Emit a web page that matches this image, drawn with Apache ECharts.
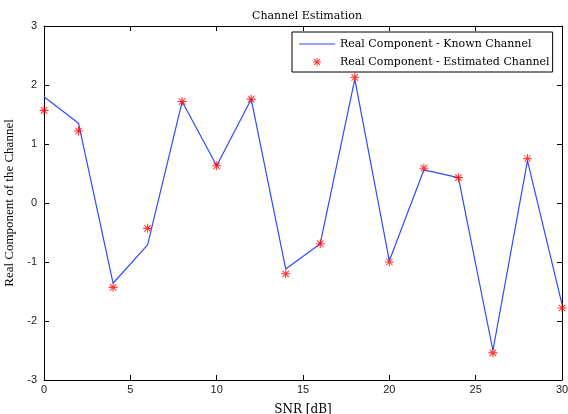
<!DOCTYPE html>
<html>
<head>
<meta charset="utf-8">
<script src="https://cdn.jsdelivr.net/npm/echarts@6/dist/echarts.min.js"></script>
<style>
  html, body { margin: 0; padding: 0; background: #fff; }
  #main { width: 568px; height: 414px; }
</style>
</head>
<body>
<div id="main"></div>
<script>
// SNR points (dB)
var snr = [0, 2, 4, 6, 8, 10, 12, 14, 16, 18, 20, 22, 24, 26, 28, 30];
// real part, known channel (line)
var knownReal = [1.80, 1.35, -1.36, -0.71, 1.72, 0.63, 1.76, -1.12, -0.69, 2.10, -0.98, 0.56, 0.43, -2.50, 0.72, -1.72];
// real part, estimated channel (stars)
var estReal = [1.57, 1.22, -1.43, -0.43, 1.72, 0.63, 1.76, -1.20, -0.69, 2.13, -1.00, 0.59, 0.43, -2.54, 0.75, -1.78];
var xTicks = [0, 5, 10, 15, 20, 25, 30];
var yTicks = [-3, -2, -1, 0, 1, 2, 3];

var serif = '"DejaVu Serif", "Liberation Serif", serif';
var times = '"Liberation Serif", serif';
var sans = '"Liberation Sans", Arial, sans-serif';

// asterisk marker like matlab '*'
var star = 'path://M0 4.4H10V5.6H0Z M4.4 0H5.6V10H4.4Z M1 1.8L1.8 1L9 8.2L8.2 9Z M8.2 1L9 1.8L1.8 9L1 8.2Z';
var lineIcon = 'path://M0 0H36V1.2H0Z';

function pairs(xs, ys) {
  return xs.map(function (x, i) { return [x, ys[i]]; });
}

var chart = echarts.init(document.getElementById('main'));

var frameAxis = {
  axisLine: { show: true, onZero: false, lineStyle: { color: '#000', width: 1 } },
  axisTick: { show: true, inside: true, length: 5, lineStyle: { color: '#000' } },
  splitLine: { show: false }
};

chart.setOption({
  animation: false,
  backgroundColor: '#fff',
  title: {
    text: 'Channel Estimation',
    left: 302,
    textAlign: 'center',
    top: 6,
    textStyle: { fontFamily: serif, fontSize: 11, fontWeight: 'normal', color: '#000' }
  },
  grid: { left: 44, right: 6, top: 26, bottom: 34, outerBoundsMode: 'none', containLabel: false },
  legend: {
    orient: 'vertical',
    left: 292,
    top: 32,
    padding: [5, 3, 3, 7],
    itemGap: 4,
    itemWidth: 36,
    itemHeight: 8,
    borderColor: '#000',
    borderWidth: 1,
    borderRadius: 0,
    backgroundColor: '#fff',
    textStyle: { fontFamily: serif, fontSize: 11, color: '#000', lineHeight: 14 },
    data: [
      { name: 'Real Component - Known Channel', icon: lineIcon, itemStyle: { color: '#2f4cf5' } },
      { name: 'Real Component - Estimated Channel', icon: star, itemStyle: { color: '#ff0000' } }
    ]
  },
  xAxis: [
    Object.assign({}, frameAxis, {
      type: 'value', min: 0, max: 30, interval: 5,
      name: 'SNR [dB]', nameLocation: 'middle', nameGap: 24,
      nameTextStyle: { fontFamily: serif, fontSize: 12, color: '#000' },
      axisLabel: { fontFamily: sans, fontSize: 11, color: '#222', margin: 4,
        formatter: function (v) { return xTicks.indexOf(v) >= 0 ? String(v) : ''; } }
    }),
    Object.assign({}, frameAxis, {
      type: 'value', min: 0, max: 30, interval: 5, position: 'top',
      axisLabel: { show: false }
    })
  ],
  yAxis: [
    Object.assign({}, frameAxis, {
      type: 'value', min: -3, max: 3, interval: 1,
      name: 'Real Component of the Channel', nameLocation: 'middle', nameGap: 24,
      nameTextStyle: { fontFamily: times, fontSize: 13, color: '#000' },
      axisLabel: { fontFamily: sans, fontSize: 11, color: '#222', margin: 7,
        formatter: function (v) { return yTicks.indexOf(v) >= 0 ? String(v) : ''; } }
    }),
    Object.assign({}, frameAxis, {
      type: 'value', min: -3, max: 3, interval: 1, position: 'right',
      axisLabel: { show: false }
    })
  ],
  series: [
    {
      name: 'Real Component - Known Channel',
      type: 'line',
      data: pairs(snr, knownReal),
      showSymbol: false,
      symbol: 'none',
      lineStyle: { color: '#2f4cf5', width: 1.2 },
      itemStyle: { color: '#2f4cf5' },
      z: 2
    },
    {
      name: 'Real Component - Estimated Channel',
      type: 'scatter',
      data: pairs(snr, estReal),
      symbol: star,
      symbolSize: 9,
      itemStyle: { color: '#ff0000' },
      z: 3
    }
  ]
});
</script>
</body>
</html>
